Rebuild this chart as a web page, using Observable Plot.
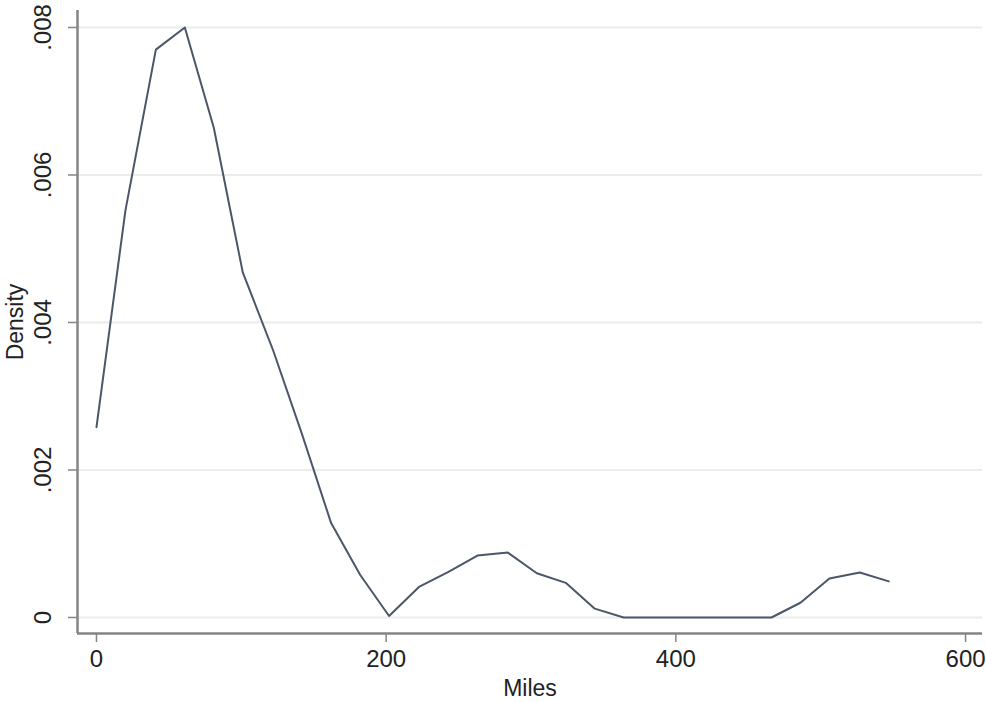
<!DOCTYPE html>
<html>
<head>
<meta charset="utf-8">
<script src="https://cdn.jsdelivr.net/npm/d3@7"></script>
<script src="https://cdn.jsdelivr.net/npm/@observablehq/plot@0.6"></script>
<style>
  html, body { margin: 0; padding: 0; background: #fff; }
  #chart svg { display: block; }
</style>
</head>
<body>
<div id="chart"></div>
<script>
// Data (kernel density of Miles)
const miles = [0, 20, 41, 61, 81, 101, 122, 142, 162, 182, 202, 223, 243, 263, 284, 304, 324, 344, 364, 385, 405, 425, 446, 466, 486, 506, 527, 547];
const density = [0.00258, 0.00552, 0.00770, 0.00800, 0.00664, 0.00468, 0.00362, 0.00248, 0.00128, 0.00058, 0.00002, 0.00042, 0.00062, 0.00084, 0.00088, 0.00060, 0.00047, 0.00012, 0.0, 0.0, 0.0, 0.0, 0.0, 0.0, 0.00020, 0.00053, 0.00061, 0.00049];
const xTicks = [0, 200, 400, 600];
const yTicks = [0, 0.002, 0.004, 0.006, 0.008];
const yTickLabels = ["0", ".002", ".004", ".006", ".008"];
const xDomain = [-13.1, 611.7];
const yDomain = [-0.000217, 0.00823];
const xTitle = "Miles";
const yTitle = "Density";

const rows = miles.map((m, i) => ({miles: m, density: density[i]}));
const yLabelRows = yTicks.map((v, i) => ({v, label: yTickLabels[i]}));

const axisColor = "#858585";
const lineColor = "#4b5769";
const font = "'Liberation Sans', Arial, Helvetica, sans-serif";

const chart = Plot.plot({
  width: 986,
  height: 702,
  marginLeft: 77,
  marginRight: 4,
  marginTop: 10,
  marginBottom: 69,
  style: {fontFamily: font, fontSize: "24px", background: "#fff", overflow: "visible"},
  x: {domain: xDomain},
  y: {domain: yDomain},
  marks: [
    Plot.gridY(yTicks, {stroke: "#ececec", strokeOpacity: 1, strokeWidth: 2}),
    Plot.ruleX([xDomain[0]], {stroke: axisColor, strokeWidth: 2.5}),
    Plot.ruleY([yDomain[0]], {stroke: axisColor, strokeWidth: 2.5}),
    Plot.axisX({ticks: xTicks, tickSize: 9, tickPadding: 7, stroke: axisColor, strokeWidth: 1.5, fill: "#222", fontSize: 24, label: null, tickFormat: d => String(d)}),
    Plot.axisY({ticks: yTicks, tickSize: 9, stroke: axisColor, strokeWidth: 1.5, text: null, label: null}),
    Plot.text(yLabelRows, {y: "v", text: "label", frameAnchor: "left", dx: -34, rotate: -90, textAnchor: "middle", lineAnchor: "middle", fill: "#222", fontSize: 24}),
    Plot.line(rows, {x: "miles", y: "density", stroke: lineColor, strokeWidth: 2}),
    Plot.text([xTitle], {frameAnchor: "bottom", dy: 55, lineAnchor: "middle", fill: "#222", fontSize: 23}),
    Plot.text([yTitle], {frameAnchor: "left", dx: -62, rotate: -90, lineAnchor: "middle", textAnchor: "middle", fill: "#222", fontSize: 23})
  ]
});
document.getElementById("chart").append(chart);
</script>
</body>
</html>
